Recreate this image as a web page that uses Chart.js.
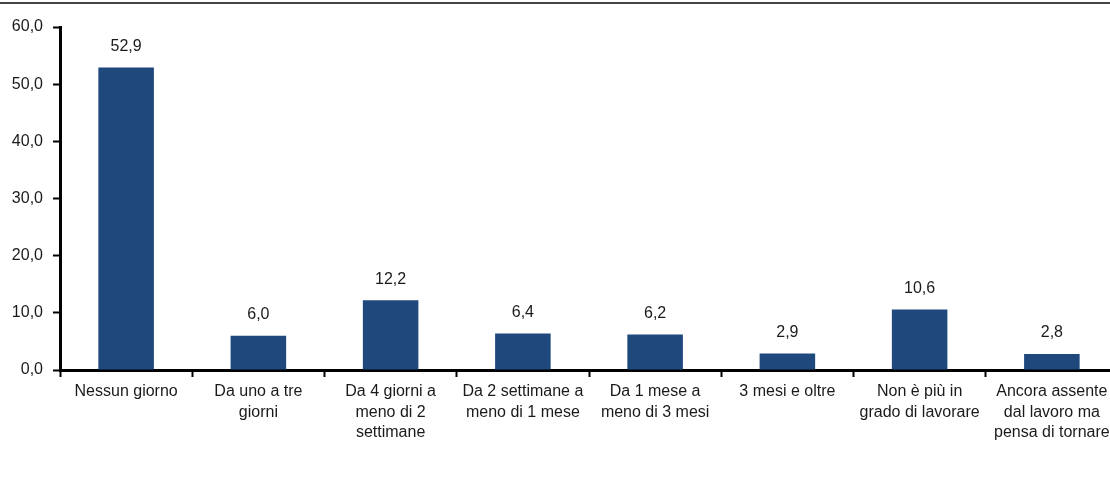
<!DOCTYPE html>
<html>
<head>
<meta charset="utf-8">
<script src="https://cdn.jsdelivr.net/npm/chart.js@4/dist/chart.umd.min.js"></script>
<style>
  html, body { margin: 0; padding: 0; background: #fff; overflow: hidden; }
  #topline { position: absolute; left: 0; top: 2px; width: 1110px; border-top: 2px solid #444; }
  #wrap { position: relative; width: 1118px; height: 477px; }
</style>
</head>
<body>
<div id="topline"></div>
<div id="wrap"><canvas id="barChart"></canvas></div>
<script>
    // categories and values
    var categories = [
        "Nessun giorno",
        ["Da uno a tre", "giorni"],
        ["Da 4 giorni a", "meno di 2", "settimane"],
        ["Da 2 settimane a", "meno di 1 mese"],
        ["Da 1 mese a", "meno di 3 mesi"],
        "3 mesi e oltre",
        ["Non è più in", "grado di lavorare"],
        ["Ancora assente", "dal lavoro ma", "pensa di tornare"]
    ];
    var values = [52.9, 6.0, 12.2, 6.4, 6.2, 2.9, 10.6, 2.8];
    var yTicks = [0, 10, 20, 30, 40, 50, 60];

    function fmt(v) {
        return v.toFixed(1).replace(".", ",");
    }

    // value labels above the bars
    var valueLabels = {
        id: "valueLabels",
        afterDatasetsDraw: function(chart) {
            var ctx = chart.ctx;
            var meta = chart.getDatasetMeta(0);
            ctx.save();
            ctx.font = "16px 'Liberation Sans', Arial, sans-serif";
            ctx.fillStyle = "#1a1a1a";
            ctx.textAlign = "center";
            ctx.textBaseline = "middle";
            meta.data.forEach(function(bar, i) {
                ctx.fillText(fmt(values[i]), bar.x, bar.y - 21);
            });
            ctx.restore();
        }
    };

    var barData = {
        labels: categories,
        datasets: [
            {
                label: "Giorni di assenza",
                backgroundColor: "#1F497D",
                borderWidth: 0,
                barPercentage: 0.42,
                categoryPercentage: 1.0,
                data: values
            }
        ]
    };

    var barOptions = {
        responsive: true,
        maintainAspectRatio: false,
        animation: false,
        layout: { padding: { top: 27, left: 0, right: 0, bottom: 0 } },
        plugins: {
            legend: { display: false },
            tooltip: { enabled: false }
        },
        scales: {
            x: {
                afterFit: function(scale) { scale.height = 107; },
                border: { display: true, color: "#000", width: 3 },
                grid: {
                    display: true,
                    offset: true,
                    drawOnChartArea: false,
                    drawTicks: true,
                    tickLength: 7,
                    tickWidth: 2,
                    tickColor: "#000"
                },
                ticks: {
                    autoSkip: false,
                    maxRotation: 0,
                    minRotation: 0,
                    padding: 4,
                    color: "#1a1a1a",
                    font: { family: "'Liberation Sans', Arial, sans-serif", size: 16, lineHeight: 1.3 }
                }
            },
            y: {
                min: 0,
                max: 60,
                afterFit: function(scale) { scale.width = 60; },
                afterBuildTicks: function(scale) {
                    scale.ticks = yTicks.map(function(v) { return { value: v }; });
                },
                border: { display: true, color: "#000", width: 3 },
                grid: {
                    display: true,
                    drawOnChartArea: false,
                    drawTicks: true,
                    tickLength: 7,
                    tickWidth: 2,
                    tickColor: "#000"
                },
                ticks: {
                    padding: 10,
                    color: "#1a1a1a",
                    font: { family: "'Liberation Sans', Arial, sans-serif", size: 16 },
                    callback: function(v) { return fmt(v); }
                }
            }
        }
    };

    var ctx = document.getElementById("barChart").getContext("2d");
    new Chart(ctx, {type: "bar", data: barData, options: barOptions, plugins: [valueLabels]});
</script>
</body>
</html>
